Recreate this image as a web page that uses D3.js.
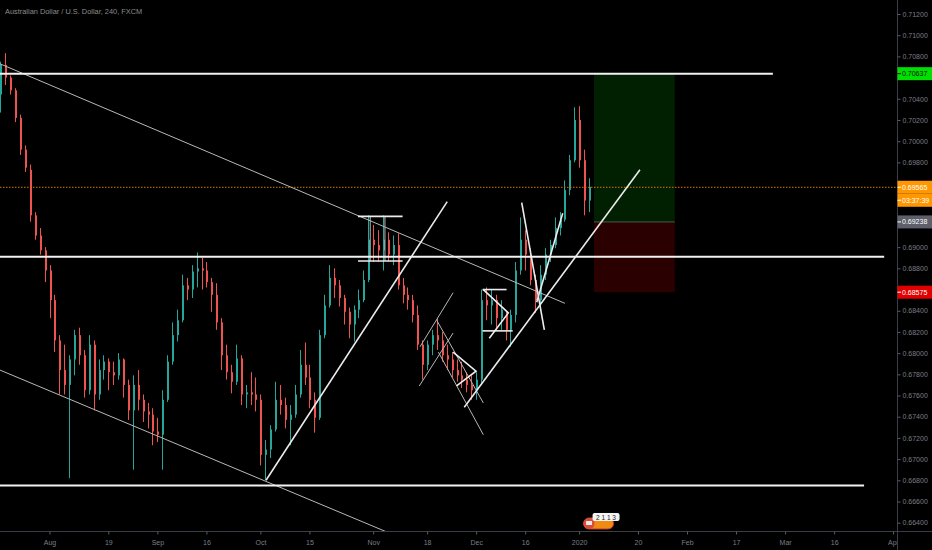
<!DOCTYPE html>
<html><head><meta charset="utf-8">
<script src="https://cdn.jsdelivr.net/npm/d3@7/dist/d3.min.js"></script>
<style>html,body{margin:0;padding:0;background:#000;overflow:hidden}</style>
</head><body><svg id="c" width="932" height="550"></svg>
<script>
// ---------- data ----------
const title = "Australian Dollar / U.S. Dollar, 240, FXCM";
const dates = ["2019-07-18","2019-07-19","2019-07-22","2019-07-23","2019-07-24","2019-07-25","2019-07-26","2019-07-29","2019-07-30","2019-07-31",
"2019-08-01","2019-08-02","2019-08-05","2019-08-06","2019-08-07","2019-08-08","2019-08-09","2019-08-12","2019-08-13","2019-08-14","2019-08-15","2019-08-16","2019-08-19","2019-08-20","2019-08-21","2019-08-22","2019-08-23","2019-08-26","2019-08-27","2019-08-28","2019-08-29","2019-08-30",
"2019-09-02","2019-09-03","2019-09-04","2019-09-05","2019-09-06","2019-09-09","2019-09-10","2019-09-11","2019-09-12","2019-09-13","2019-09-16","2019-09-17","2019-09-18","2019-09-19","2019-09-20","2019-09-23","2019-09-24","2019-09-25","2019-09-26","2019-09-27","2019-09-30",
"2019-10-01","2019-10-02","2019-10-03","2019-10-04","2019-10-07","2019-10-08","2019-10-09","2019-10-10","2019-10-11","2019-10-14","2019-10-15","2019-10-16","2019-10-17","2019-10-18","2019-10-21","2019-10-22","2019-10-23","2019-10-24","2019-10-25","2019-10-28","2019-10-29","2019-10-30","2019-10-31",
"2019-11-01","2019-11-04","2019-11-05","2019-11-06","2019-11-07","2019-11-08","2019-11-11","2019-11-12","2019-11-13","2019-11-14","2019-11-15","2019-11-18","2019-11-19","2019-11-20","2019-11-21","2019-11-22","2019-11-25","2019-11-26","2019-11-27","2019-11-28","2019-11-29",
"2019-12-02","2019-12-03","2019-12-04","2019-12-05","2019-12-06","2019-12-09","2019-12-10","2019-12-11","2019-12-12","2019-12-13","2019-12-16","2019-12-17","2019-12-18","2019-12-19","2019-12-20","2019-12-23","2019-12-24","2019-12-26","2019-12-27","2019-12-30","2019-12-31",
"2020-01-02","2020-01-03","2020-01-06"];
const open = [0.7044,0.7072,0.7060,0.7048,0.7022,0.6992,0.6973,0.6930,0.6911,0.6897,
0.6878,0.6850,0.6812,0.6784,0.6770,0.6794,0.6817,0.6798,0.6765,0.6808,0.6761,0.6784,0.6792,0.6782,0.6779,0.6794,0.6770,0.6746,0.6770,0.6756,0.6745,0.6742,
0.6726,0.6723,0.6756,0.6792,0.6817,0.6831,0.6864,0.6860,0.6877,0.6880,0.6878,0.6867,0.6855,0.6829,0.6798,0.6782,0.6773,0.6795,0.6761,0.6763,0.6761,
0.6756,0.6704,0.6709,0.6728,0.6756,0.6751,0.6737,0.6742,0.6761,0.6789,0.6777,0.6756,0.6739,0.6817,0.6845,0.6871,0.6864,0.6852,0.6839,0.6827,0.6841,0.6850,0.6869,
0.6907,0.6902,0.6897,0.6907,0.6893,0.6902,0.6864,0.6855,0.6850,0.6836,0.6808,0.6789,0.6808,0.6817,0.6812,0.6798,0.6794,0.6784,0.6779,0.6775,0.6770,
0.6765,0.6775,0.6850,0.6845,0.6850,0.6833,0.6836,0.6822,0.6836,0.6878,0.6907,0.6893,0.6869,0.6850,0.6874,0.6893,0.6902,0.6918,0.6926,0.6954,0.6982,
0.7020,0.6982,0.6944];
const high = [0.7075,0.7083,0.7062,0.7050,0.7025,0.6996,0.6978,0.6933,0.6918,0.6900,
0.6883,0.6855,0.6817,0.6808,0.6798,0.6822,0.6824,0.6803,0.6817,0.6812,0.6794,0.6798,0.6795,0.6792,0.6800,0.6795,0.6775,0.6779,0.6784,0.6761,0.6753,0.6748,
0.6739,0.6765,0.6798,0.6829,0.6841,0.6874,0.6871,0.6883,0.6895,0.6890,0.6886,0.6871,0.6866,0.6833,0.6808,0.6789,0.6808,0.6798,0.6770,0.6782,0.6777,
0.6761,0.6718,0.6732,0.6773,0.6770,0.6758,0.6751,0.6770,0.6803,0.6810,0.6789,0.6763,0.6822,0.6855,0.6883,0.6880,0.6869,0.6855,0.6843,0.6845,0.6860,0.6878,0.6930,
0.6921,0.6916,0.6930,0.6914,0.6911,0.6913,0.6871,0.6862,0.6855,0.6845,0.6812,0.6812,0.6822,0.6833,0.6820,0.6808,0.6801,0.6794,0.6792,0.6782,0.6779,
0.6782,0.6860,0.6862,0.6860,0.6855,0.6850,0.6839,0.6841,0.6886,0.6928,0.6916,0.6899,0.6874,0.6883,0.6899,0.6907,0.6928,0.6933,0.6963,0.6987,0.7032,
0.7033,0.6992,0.6965];
const low = [0.7027,0.7053,0.7044,0.7018,0.6987,0.6971,0.6924,0.6907,0.6893,0.6867,
0.6833,0.6801,0.6761,0.6761,0.6682,0.6779,0.6789,0.6758,0.6761,0.6746,0.6756,0.6775,0.6765,0.6770,0.6775,0.6758,0.6737,0.6690,0.6746,0.6735,0.6729,0.6713,
0.6716,0.6690,0.6754,0.6789,0.6811,0.6829,0.6850,0.6852,0.6862,0.6860,0.6862,0.6839,0.6822,0.6784,0.6775,0.6762,0.6770,0.6751,0.6748,0.6751,0.6745,
0.6694,0.6680,0.6701,0.6726,0.6742,0.6729,0.6713,0.6739,0.6758,0.6770,0.6748,0.6725,0.6737,0.6814,0.6843,0.6852,0.6844,0.6827,0.6814,0.6811,0.6833,0.6848,0.6867,
0.6886,0.6886,0.6878,0.6886,0.6883,0.6860,0.6847,0.6841,0.6829,0.6803,0.6775,0.6784,0.6798,0.6803,0.6792,0.6784,0.6777,0.6773,0.6767,0.6763,0.6756,
0.6756,0.6770,0.6831,0.6827,0.6824,0.6822,0.6812,0.6806,0.6829,0.6874,0.6878,0.6864,0.6838,0.6845,0.6869,0.6886,0.6899,0.6911,0.6924,0.6949,0.6980,
0.6975,0.6930,0.6933];
const close = [0.7072,0.7060,0.7048,0.7022,0.6992,0.6975,0.6930,0.6911,0.6897,0.6878,
0.6850,0.6812,0.6784,0.6770,0.6794,0.6817,0.6798,0.6765,0.6808,0.6761,0.6784,0.6792,0.6782,0.6779,0.6794,0.6770,0.6746,0.6770,0.6756,0.6745,0.6742,0.6726,
0.6723,0.6756,0.6792,0.6817,0.6831,0.6864,0.6860,0.6877,0.6880,0.6878,0.6867,0.6855,0.6829,0.6798,0.6782,0.6773,0.6795,0.6761,0.6763,0.6761,0.6756,
0.6704,0.6709,0.6728,0.6756,0.6751,0.6737,0.6742,0.6761,0.6789,0.6777,0.6756,0.6739,0.6817,0.6845,0.6871,0.6864,0.6852,0.6839,0.6827,0.6841,0.6850,0.6869,0.6907,
0.6902,0.6897,0.6907,0.6893,0.6902,0.6864,0.6855,0.6850,0.6836,0.6808,0.6789,0.6808,0.6817,0.6812,0.6798,0.6794,0.6784,0.6779,0.6775,0.6770,0.6765,
0.6775,0.6850,0.6845,0.6850,0.6833,0.6841,0.6822,0.6836,0.6878,0.6907,0.6893,0.6869,0.6850,0.6874,0.6893,0.6902,0.6918,0.6926,0.6954,0.6982,0.7020,
0.6982,0.6944,0.6957];

const holidays = ["2019-12-25","2020-01-01"];
const priceTickLabels = ["0.66400","0.66600","0.66800","0.67000","0.67200","0.67400","0.67600","0.67800","0.68000","0.68200","0.68400","0.68600","0.68800","0.69000","0.69200","0.69400","0.69600","0.69800","0.70000","0.70200","0.70400","0.70600","0.70800","0.71000","0.71200"];
const timeTickDates = ["2019-08-01","2019-08-19","2019-09-02","2019-09-16","2019-10-01","2019-10-15","2019-11-01","2019-11-18","2019-12-02","2019-12-16","2020-01-02","2020-01-20","2020-02-03","2020-02-17","2020-03-02","2020-03-16","2020-04-01"];
const timeTickLabels = ["Aug","19","Sep","16","Oct","15","Nov","18","Dec","16","2020","20","Feb","17","Mar","16","Apr"];

const lastPrice = 0.69565, countdown = "03:37:39";
const targetPrice = 0.70637, entryPrice = 0.69238, stopPrice = 0.68575;
const positionStart = ["2020-01-07", 0.03], positionEnd = ["2020-01-29", 0.5];

// horizontal levels: [price, fromDate, fromFrac, toDate, toFrac]
const levels = [
  [0.70637, "2019-07-17", 0, "2020-02-26", 0.5],
  [0.6891,  "2019-07-17", 0, "2020-03-30", 0.2],
  [0.6675,  "2019-07-17", 0, "2020-03-24", 0.1]
];
// thin grey drawings: [d1,f1,p1,d2,f2,p2]
const thinLines = [
  ["2019-07-18",-0.1,0.7073,"2019-12-27",0.1,0.6847],
  ["2019-07-18",-0.1,0.6784,"2019-11-05",0.4,0.6632],
  ["2019-11-14",0.4,0.6769,"2019-11-25",0.3,0.6819],
  ["2019-11-14",0.55,0.6806,"2019-11-25",0.3,0.6857],
  ["2019-11-19",0.96,0.6831,"2019-12-03",0.46,0.6753],
  ["2019-11-20",0.3,0.6801,"2019-12-03",0.46,0.6723],
  ["2019-10-31",0.4,0.6929,"2019-10-31",0.4,0.6887],
  ["2019-11-05",0.4,0.6929,"2019-11-05",0.4,0.6887]
];
// white drawings
const whiteLines = [
  ["2019-10-02",0.15,0.6680,"2019-11-22",0.1,0.6943],
  ["2019-11-27",0.58,0.6749,"2020-01-20",0.4,0.6973],
  ["2019-12-13",0.29,0.6942,"2019-12-19",0.9,0.6822],
  ["2019-12-18",0.35,0.6848,"2019-12-26",0.65,0.6932],
  ["2019-10-28",0.9,0.6929,"2019-11-11",0,0.6929],
  ["2019-10-28",0.9,0.6887,"2019-11-11",0,0.6887],
  ["2019-12-03",0.3,0.6860,"2019-12-10",0.2,0.6860],
  ["2019-12-03",0.3,0.6821,"2019-12-11",0.45,0.6821]
];
const triangles = [
  [["2019-11-25",0.3,0.6801],["2019-12-02",-0.03,0.6783],["2019-11-26",0,0.6769]],
  [["2019-12-03",0.46,0.6860],["2019-12-10",0.56,0.6838],["2019-12-04",0.68,0.6814]]
];
const eventDate = "2020-01-03", eventText = "2 1 1 3";

// ---------- scales ----------
const W = 932, H = 550, paneR = 897, paneB = 531.5;
const parse = d3.timeParse("%Y-%m-%d"), fmt = d3.timeFormat("%Y-%m-%d");
const days = d3.timeDays(parse("2019-07-08"), parse("2020-05-01"))
  .filter(d => d.getDay() !== 0 && d.getDay() !== 6 && !holidays.includes(fmt(d))).map(fmt);
const idx = new Map(days.map((d, i) => [d, i]));
const x = d3.scaleLinear().domain([idx.get("2019-08-01"), idx.get("2020-04-01")]).range([49.5, 893]);
const X = (d, f = 0) => x(idx.get(d) + f);
const y = d3.scaleLinear().domain([0.664, 0.712]).range([522.7, 14]);

const UP = "#26a69a", DOWN = "#ef5350", FONT = "Liberation Sans, Arial, sans-serif", AX = "#7b7e87";

const svg = d3.select("#c");
svg.append("rect").attr("width", W).attr("height", H).attr("fill", "#000");
const defs = svg.append("defs");
defs.append("clipPath").attr("id", "pane").append("rect").attr("x", 0).attr("y", 0).attr("width", paneR).attr("height", paneB);
defs.append("clipPath").attr("id", "xlab").append("rect").attr("x", 0).attr("y", 0).attr("width", paneR).attr("height", 30);

const pane = svg.append("g").attr("clip-path", "url(#pane)");

// position box
const bx0 = X(...positionStart), bx1 = X(...positionEnd);
pane.append("rect").attr("x", bx0).attr("width", bx1 - bx0).attr("y", y(targetPrice)).attr("height", y(entryPrice) - y(targetPrice)).attr("fill", "#012001");
pane.append("rect").attr("x", bx0).attr("width", bx1 - bx0).attr("y", y(entryPrice)).attr("height", y(stopPrice) - y(entryPrice)).attr("fill", "#2a0000");
pane.append("line").attr("x1", bx0).attr("x2", bx1).attr("y1", y(entryPrice)).attr("y2", y(entryPrice)).attr("stroke", "#4a5a4a").attr("stroke-width", 1);

// candles
const candles = dates.map((d, i) => ({ d, o: open[i], h: high[i], l: low[i], c: close[i] }));
const cg = pane.append("g");
cg.selectAll("line.w").data(candles).join("line").attr("class", "w")
  .attr("x1", d => Math.round(X(d.d)) + 0.5).attr("x2", d => Math.round(X(d.d)) + 0.5)
  .attr("y1", d => y(d.h)).attr("y2", d => y(d.l))
  .attr("stroke", d => d.c >= d.o ? UP : DOWN).attr("stroke-width", 1);
cg.selectAll("rect.b").data(candles).join("rect").attr("class", "b")
  .attr("x", d => Math.round(X(d.d))).attr("width", 2)
  .attr("y", d => y(Math.max(d.o, d.c)))
  .attr("height", d => Math.max(1, Math.abs(y(d.o) - y(d.c))))
  .attr("fill", d => d.c >= d.o ? UP : DOWN);

// last price dotted line
pane.append("line").attr("x1", 0).attr("x2", paneR).attr("y1", y(lastPrice)).attr("y2", y(lastPrice))
  .attr("stroke", "#d97800").attr("stroke-width", 1).attr("stroke-dasharray", "1.5,1.5");

// drawings
const seg = (g, arr, col, w) => g.selectAll(null).data(arr).join("line")
  .attr("x1", d => X(d[0], d[1])).attr("y1", d => y(d[2]))
  .attr("x2", d => X(d[3], d[4])).attr("y2", d => y(d[5]))
  .attr("stroke", col).attr("stroke-width", w);
seg(pane.append("g"), thinLines, "#b8b8b8", 1);
seg(pane.append("g"), whiteLines, "#ececec", 1.6);
pane.append("g").selectAll(null).data(levels).join("line")
  .attr("x1", d => X(d[1], d[2])).attr("x2", d => X(d[3], d[4]))
  .attr("y1", d => y(d[0])).attr("y2", d => y(d[0]))
  .attr("stroke", "#f2f2f2").attr("stroke-width", 2);
pane.append("g").selectAll(null).data(triangles).join("polyline")
  .attr("points", t => t.map(p => X(p[0], p[1]) + "," + y(p[2])).join(" "))
  .attr("fill", "none").attr("stroke", "#f0f0f0").attr("stroke-width", 1.6);

// event marker
const ex = X(eventDate, -0.1);
const ev = svg.append("g");
ev.append("rect").attr("x", ex).attr("y", 518).attr("width", 30).attr("height", 11).attr("rx", 5.5).attr("fill", "#f08a12").attr("stroke", "#c0392b");
ev.append("circle").attr("cx", ex + 5.5).attr("cy", 523.5).attr("r", 5.5).attr("fill", "#d84a3a");
ev.append("rect").attr("x", ex + 2.5).attr("y", 521).attr("width", 6).attr("height", 4).attr("fill", "#e8e8e8");
ev.append("rect").attr("x", ex + 9).attr("y", 513).attr("width", 27).attr("height", 8).attr("rx", 2).attr("fill", "#f4f4f4");
ev.append("text").attr("x", ex + 22.5).attr("y", 519.5).attr("text-anchor", "middle").attr("font-family", FONT).attr("font-size", 6.5).attr("fill", "#222").text(eventText);

// axes lines
svg.append("line").attr("x1", paneR + 0.5).attr("x2", paneR + 0.5).attr("y1", 0).attr("y2", H).attr("stroke", "#3b3e46");
svg.append("line").attr("x1", 0).attr("x2", W).attr("y1", paneB).attr("y2", paneB).attr("stroke", "#3b3e46");

// price axis
const badgesY = [targetPrice, lastPrice, entryPrice, stopPrice].map(p => y(p)).concat([y(lastPrice) + 13]);
const pticks = priceTickLabels.map(Number);
const yAxis = d3.axisRight(y).tickValues(pticks).tickFormat((v, i) => priceTickLabels[i]).tickSize(3).tickPadding(2);
const ya = svg.append("g").attr("transform", `translate(${paneR + 0.5},0)`).call(yAxis);
ya.select(".domain").remove();
ya.selectAll(".tick line").attr("stroke", "#5a5d66");
ya.selectAll(".tick text").attr("font-family", FONT).attr("font-size", 7).attr("fill", AX);
ya.selectAll(".tick").filter(v => badgesY.some(by => Math.abs(by - y(v)) < 10)).remove();

// time axis
const xAxis = d3.axisBottom(x).tickValues(timeTickDates.map(d => idx.get(d)))
  .tickFormat((v, i) => timeTickLabels[i]).tickSize(3).tickPadding(6);
const xa = svg.append("g").attr("transform", `translate(0,${paneB})`).attr("clip-path", "url(#xlab)").call(xAxis);
xa.select(".domain").remove();
xa.selectAll(".tick line").attr("stroke", "#5a5d66");
xa.selectAll(".tick text").attr("font-family", FONT).attr("font-size", 7).attr("fill", AX);

// badges
function badge(cy, txt, bg, fg) {
  svg.append("rect").attr("x", paneR + 0.5).attr("y", cy - 6.5).attr("width", W - paneR).attr("height", 13).attr("fill", bg);
  svg.append("line").attr("x1", paneR + 0.5).attr("x2", paneR + 4).attr("y1", cy).attr("y2", cy).attr("stroke", fg);
  svg.append("text").attr("x", paneR + 5).attr("y", cy).attr("dy", "0.35em").attr("font-family", FONT)
    .attr("font-size", 7).attr("fill", fg).text(txt);
}
badge(y(targetPrice), d3.format(".5f")(targetPrice), "#00e000", "#0a0a0a");
badge(y(lastPrice), d3.format(".5f")(lastPrice), "#ff9800", "#ffffff");
badge(y(lastPrice) + 13, countdown, "#ff9800", "#ffffff");
badge(y(entryPrice), d3.format(".5f")(entryPrice), "#5d606b", "#ffffff");
badge(y(stopPrice), d3.format(".5f")(stopPrice), "#e00000", "#ffffff");

// title
svg.append("text").attr("x", 5).attr("y", 13.5).attr("font-family", FONT).attr("font-size", 7.4).attr("fill", "#8c8c8c").text(title);
</script></body></html>
